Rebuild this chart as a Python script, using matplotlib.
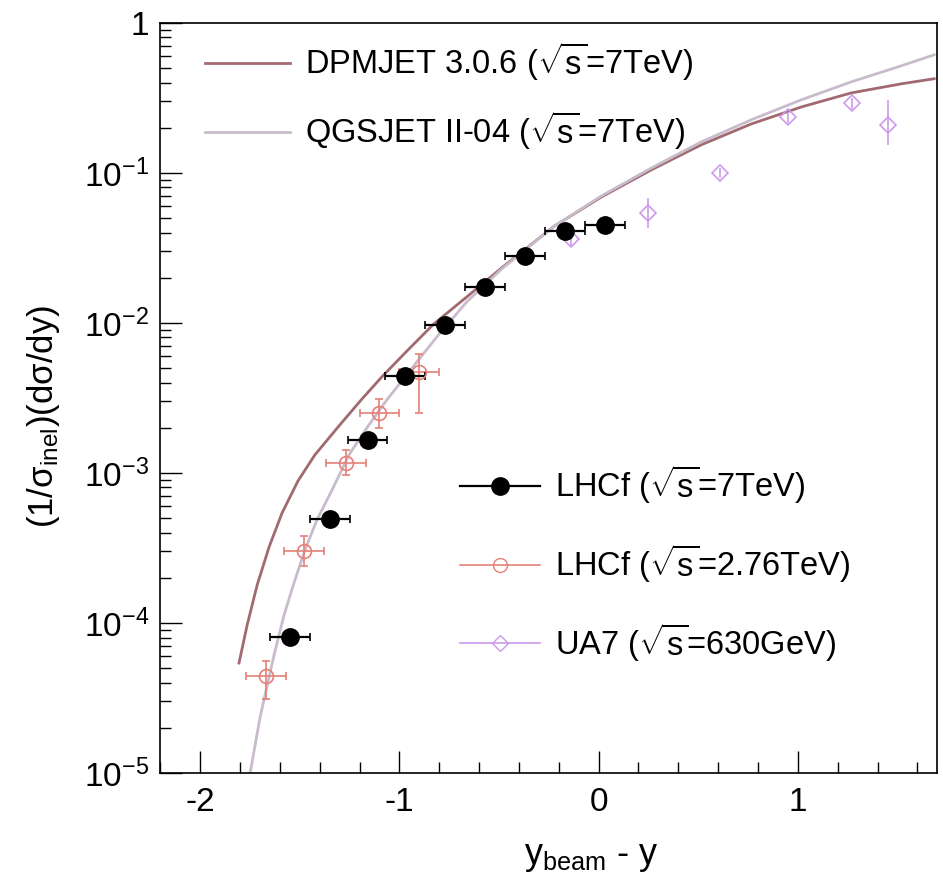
import matplotlib
matplotlib.use("Agg")
import matplotlib.pyplot as plt
from matplotlib.lines import Line2D
from matplotlib.ticker import FixedLocator, MultipleLocator, LogLocator, FuncFormatter
import numpy as np

plt.rcParams['font.family'] = ['Liberation Sans', 'DejaVu Sans']
plt.rcParams['mathtext.fontset'] = 'custom'
plt.rcParams['mathtext.rm'] = 'Liberation Sans'
plt.rcParams['mathtext.it'] = 'Liberation Sans:italic'
plt.rcParams['mathtext.bf'] = 'Liberation Sans:bold'

# LHCf 7 TeV
lhcf7_x = [-1.55, -1.35, -1.16, -0.97, -0.77, -0.57, -0.37, -0.17, 0.03]
lhcf7_y = [8.1e-5, 4.9e-4, 1.66e-3, 4.4e-3, 9.7e-3, 1.74e-2, 2.8e-2, 4.1e-2, 4.5e-2]
lhcf7_xerr = [0.1, 0.1, 0.1, 0.1, 0.1, 0.1, 0.1, 0.1, 0.1]

# LHCf 2.76 TeV
lhcf276_x = [-1.67, -1.48, -1.27, -1.10, -0.90]
lhcf276_y = [4.4e-5, 3.0e-4, 1.17e-3, 2.5e-3, 4.7e-3]
lhcf276_xerr = [0.1, 0.1, 0.1, 0.1, 0.1]
lhcf276_lo = [1.3e-5, 0.6e-4, 0.2e-3, 0.5e-3, 2.2e-3]
lhcf276_hi = [1.2e-5, 0.8e-4, 0.25e-3, 0.6e-3, 1.5e-3]

# UA7 630 GeV
ua7_x = [-0.14, 0.25, 0.61, 0.95, 1.27, 1.45]
ua7_y = [0.036, 0.054, 0.10, 0.235, 0.29, 0.21]
ua7_lo = [0.004, 0.011, 0.008, 0.02, 0.025, 0.056]
ua7_hi = [0.004, 0.014, 0.008, 0.02, 0.025, 0.097]

# model curves, 7 TeV
dpmjet_x = [-1.805, -1.764, -1.714, -1.654, -1.589, -1.509, -1.424, -1.303,
            -1.188, -1.088, -0.962, -0.827, -0.662, -0.486, -0.221, 0.015,
            0.266, 0.516, 0.767, 1.018, 1.268, 1.519, 1.684]
dpmjet_y = [5.41e-5, 9.7e-5, 1.79e-4, 3.21e-4, 5.41e-4, 8.85e-4, 1.32e-3, 2.06e-3,
            3.11e-3, 4.37e-3, 6.5e-3, 9.85e-3, 1.49e-2, 2.33e-2, 4.43e-2, 6.92e-2,
            0.105, 0.154, 0.212, 0.275, 0.341, 0.392, 0.424]
qgsjet_x = [-1.752, -1.724, -1.699, -1.669, -1.629, -1.579, -1.529, -1.474,
            -1.414, -1.338, -1.253, -1.163, -1.063, -0.937, -0.812, -0.662,
            -0.486, -0.221, 0.015, 0.266, 0.516, 0.767, 1.018, 1.268, 1.519, 1.684]
qgsjet_y = [9.5e-6, 1.54e-5, 2.36e-5, 3.57e-5, 6.12e-5, 1.13e-4, 1.85e-4, 3.07e-4,
            4.86e-4, 7.7e-4, 1.32e-3, 2.0e-3, 3.07e-3, 5.0e-3, 8.07e-3, 1.38e-2,
            2.29e-2, 4.43e-2, 7.03e-2, 0.108, 0.161, 0.226, 0.307, 0.404, 0.517, 0.612]

c_dpm = '#a06a70'
c_qgs = '#c8bccc'
c_276 = '#e48078'
c_ua7 = '#cc9aee'
fs = 23.5

fig = plt.figure(figsize=(9.43, 8.91), dpi=100)
ax = fig.add_axes([0.170, 0.1324, 0.824, 0.842])

ax.plot(dpmjet_x, dpmjet_y, color=c_dpm, lw=2.0, solid_joinstyle='round')
ax.plot(qgsjet_x, qgsjet_y, color=c_qgs, lw=2.0, solid_joinstyle='round')

ax.errorbar(ua7_x, ua7_y, yerr=[ua7_lo, ua7_hi], fmt='D', ms=8, mfc='none',
            mec=c_ua7, ecolor=c_ua7, mew=1.2, elinewidth=1.2, capsize=0)
ax.errorbar(lhcf276_x, lhcf276_y, xerr=lhcf276_xerr, yerr=[lhcf276_lo, lhcf276_hi],
            fmt='o', ms=10, mfc='none', mec=c_276, ecolor=c_276, mew=1.2,
            elinewidth=1.2, capsize=3)
ax.errorbar(lhcf7_x, lhcf7_y, xerr=lhcf7_xerr, fmt='o', ms=12.5, color='black',
            elinewidth=1.6, capsize=3, capthick=1.2)

ax.set_yscale('log')
ax.set_xlim(-2.2, 1.7)
ax.set_ylim(1e-5, 1)

ax.xaxis.set_major_locator(FixedLocator([-2, -1, 0, 1]))
ax.xaxis.set_minor_locator(MultipleLocator(0.2))
ax.yaxis.set_major_locator(LogLocator(base=10, numticks=10))
ax.yaxis.set_minor_locator(LogLocator(base=10, subs=np.arange(2, 10), numticks=20))


def log_label(v, pos):
    e = int(round(np.log10(v)))
    if e == 0:
        return '1'
    return r'$\mathregular{10^{%d}}$' % e


ax.yaxis.set_major_formatter(FuncFormatter(log_label))
ax.xaxis.set_major_formatter(FuncFormatter(lambda v, p: '%d' % v))

ax.tick_params(which='both', direction='in', top=False, right=False,
               labelsize=24, width=1.0)
ax.tick_params(which='major', length=16)
ax.tick_params(which='minor', length=8)
ax.tick_params(axis='y', pad=8)
ax.tick_params(axis='x', pad=10)
for s in ax.spines.values():
    s.set_linewidth(1.2)

ax.set_ylabel(r'(1/$\mathregular{\sigma_{inel}}$)(d$\mathregular{\sigma}$/dy)', fontsize=25)
ax.yaxis.set_label_coords(-0.127, 0.475)
ax.set_xlabel(r'$\mathregular{y_{beam}}$ - y', fontsize=26)
ax.xaxis.set_label_coords(0.555, -0.088)

model_handles = [Line2D([], [], color=c_dpm, lw=2.0),
                 Line2D([], [], color=c_qgs, lw=2.0)]
model_labels = [r'DPMJET 3.0.6 ($\mathregular{\sqrt{s}}$=7TeV)',
                r'QGSJET II-04 ($\mathregular{\sqrt{s}}$=7TeV)']
leg1 = ax.legend(model_handles, model_labels, loc='upper left',
                 bbox_to_anchor=(0.058, 0.977), frameon=False, fontsize=fs,
                 handlelength=2.6, handletextpad=0.45, labelspacing=0.8,
                 borderpad=0, borderaxespad=0)
ax.add_artist(leg1)

data_handles = [Line2D([], [], color='black', marker='o', ms=12.5, lw=1.6),
                Line2D([], [], color=c_276, marker='o', ms=10, mfc='none', lw=1.2),
                Line2D([], [], color=c_ua7, marker='D', ms=8, mfc='none', lw=1.2)]
data_labels = [r'LHCf ($\mathregular{\sqrt{s}}$=7TeV)',
               r'LHCf ($\mathregular{\sqrt{s}}$=2.76TeV)',
               r'UA7 ($\mathregular{\sqrt{s}}$=630GeV)']
ax.legend(data_handles, data_labels, loc='upper left',
          bbox_to_anchor=(0.386, 0.413), frameon=False, fontsize=fs,
          handlelength=2.45, handletextpad=0.45, labelspacing=1.1,
          borderpad=0, borderaxespad=0)

fig.savefig('out.png', dpi=100)
